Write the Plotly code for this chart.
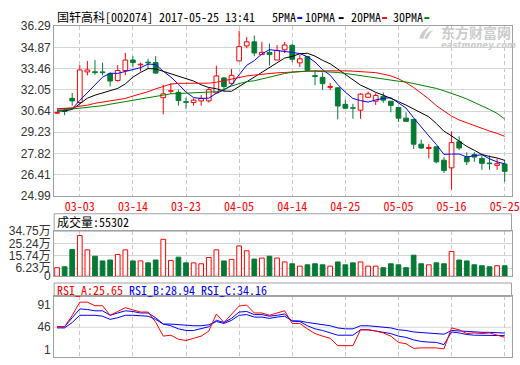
import plotly.graph_objects as go

# ---------------- data ----------------
dates = ["02-28", "03-01", "03-02", "03-03", "03-06", "03-07", "03-08", "03-09", "03-10", "03-13",
         "03-14", "03-15", "03-16", "03-17", "03-20", "03-21", "03-22", "03-23", "03-24", "03-27",
         "03-28", "03-29", "03-30", "03-31", "04-05", "04-06", "04-07", "04-10", "04-11", "04-12",
         "04-13", "04-14", "04-17", "04-18", "04-19", "04-20", "04-21", "04-24", "04-25", "04-26",
         "04-27", "04-28", "05-02", "05-03", "05-04", "05-05", "05-08", "05-09", "05-10", "05-11",
         "05-12", "05-15", "05-16", "05-17", "05-18", "05-19", "05-22", "05-23", "05-24", "05-25"]

opens = [30.50, 30.66, 31.49, 31.21, 33.25, 33.26, 33.25, 33.12, 32.68, 33.34,
         34.04, 33.72, 33.90, 33.87, 31.53, 31.96, 31.89, 31.27, 31.21, 31.32,
         31.32, 31.85, 32.85, 32.49, 33.98, 34.98, 35.25, 34.40, 34.55, 34.04,
         34.72, 35.02, 33.85, 34.27, 33.00, 32.89, 32.22, 32.19, 31.09, 30.86,
         30.70, 31.56, 31.30, 31.62, 31.30, 30.88, 30.17, 30.09, 28.44, 28.15,
         28.26, 27.37, 26.86, 28.60, 27.58, 27.75, 27.48, 27.18, 27.03, 27.12]
highs = [30.58, 30.79, 31.85, 33.70, 33.98, 34.04, 33.87, 33.23, 33.70, 34.51,
         34.30, 33.87, 34.12, 34.30, 32.39, 32.49, 32.07, 31.53, 31.49, 31.70,
         32.21, 33.66, 32.91, 33.44, 35.99, 35.57, 35.67, 35.25, 35.14, 35.04,
         35.25, 35.12, 34.38, 34.30, 33.32, 33.21, 32.51, 32.22, 31.40, 31.13,
         31.83, 31.94, 31.83, 31.88, 31.30, 30.88, 30.56, 30.09, 28.75, 28.44,
         28.26, 27.58, 29.28, 28.96, 27.90, 27.90, 27.69, 27.69, 27.48, 27.37]
lows = [30.45, 30.37, 31.00, 31.15, 33.02, 33.06, 33.02, 32.28, 32.60, 33.02,
        33.55, 33.28, 33.44, 33.12, 30.43, 31.79, 31.00, 30.79, 31.00, 31.00,
        31.21, 31.80, 31.96, 32.39, 33.98, 34.82, 34.30, 34.40, 33.66, 34.04,
        34.51, 33.90, 33.57, 33.30, 32.36, 32.04, 32.04, 30.09, 30.77, 30.13,
        30.13, 31.51, 31.05, 31.19, 30.56, 29.92, 29.92, 28.12, 28.12, 27.48,
        27.17, 26.52, 25.42, 28.05, 27.05, 27.26, 26.73, 26.73, 26.73, 25.93]
closes = [30.55, 30.62, 31.32, 33.38, 33.38, 33.20, 33.20, 32.64, 33.34, 34.04,
          33.87, 33.76, 33.85, 33.17, 31.79, 32.00, 31.34, 31.22, 31.37, 31.49,
          32.07, 32.98, 32.28, 33.02, 34.93, 35.25, 34.51, 34.55, 34.40, 34.68,
          35.04, 34.09, 34.12, 33.36, 32.94, 32.47, 32.28, 30.98, 30.83, 30.83,
          31.77, 31.79, 31.68, 31.37, 31.02, 30.17, 29.96, 28.44, 28.18, 28.22,
          27.26, 26.69, 28.54, 28.18, 27.26, 27.58, 27.16, 27.14, 27.14, 26.63]

ma5 = [30.78, 30.78, 30.80, 31.35, 31.85, 32.38, 32.90, 33.16, 33.15, 33.28,
       33.42, 33.53, 33.77, 33.74, 33.29, 32.91, 32.43, 31.90, 31.54, 31.48,
       31.50, 31.83, 32.04, 32.37, 33.06, 33.69, 34.00, 34.45, 34.73, 34.68,
       34.64, 34.55, 34.47, 34.26, 33.91, 33.40, 33.03, 32.41, 31.90, 31.48,
       31.34, 31.24, 31.38, 31.49, 31.53, 31.21, 30.84, 30.19, 29.55, 28.99,
       28.41, 27.76, 27.78, 27.78, 27.59, 27.65, 27.74, 27.46, 27.26, 27.13]
ma10 = [30.64, 30.65, 30.75, 31.15, 31.50, 31.70, 31.85, 31.98, 32.15, 32.45,
        32.90, 33.21, 33.47, 33.45, 33.29, 33.17, 32.98, 32.84, 32.64, 32.39,
        32.21, 32.13, 31.97, 31.96, 32.27, 32.60, 32.91, 33.25, 33.55, 33.87,
        34.17, 34.28, 34.46, 34.49, 34.30, 34.02, 33.79, 33.44, 33.08, 32.70,
        32.37, 32.14, 31.89, 31.70, 31.50, 31.27, 31.04, 30.79, 30.52, 30.26,
        29.81, 29.30, 28.99, 28.67, 28.29, 28.03, 27.75, 27.62, 27.52, 27.36]
ma20 = [30.79, 30.82, 30.86, 30.97, 31.03, 31.16, 31.23, 31.30, 31.39, 31.48,
        31.64, 31.77, 31.93, 32.12, 32.28, 32.44, 32.49, 32.49, 32.49, 32.49,
        32.50, 32.56, 32.66, 32.79, 32.91, 32.98, 33.04, 33.10, 33.15, 33.19,
        33.21, 33.25, 33.28, 33.30, 33.32, 33.33, 33.33, 33.33, 33.32, 33.30,
        33.26, 33.23, 33.20, 33.10, 32.98, 32.79, 32.53, 32.21, 31.83, 31.45,
        31.00, 30.62, 30.30, 30.05, 29.86, 29.67, 29.47, 29.31, 29.16, 28.96]
ma30 = [30.67, 30.72, 30.78, 30.81, 30.88, 30.94, 31.00, 31.10, 31.19, 31.26,
        31.35, 31.45, 31.54, 31.64, 31.70, 31.79, 31.81, 31.83, 31.83, 31.85,
        31.86, 31.93, 32.09, 32.31, 32.47, 32.60, 32.66, 32.79, 32.89, 33.01,
        33.14, 33.23, 33.28, 33.30, 33.30, 33.28, 33.25, 33.21, 33.15, 33.07,
        33.01, 32.95, 32.85, 32.75, 32.69, 32.63, 32.58, 32.47, 32.37, 32.28,
        32.15, 31.99, 31.83, 31.64, 31.45, 31.23, 31.00, 30.75, 30.49, 30.11]

volume_wan = [6.6, 7.3, 20.6, 31.3, 20.3, 15.4, 11.8, 12.5, 16.7, 20.3,
              11.8, 11.8, 10.3, 12.5, 28.4, 12.2, 14.7, 10.3, 10.3, 9.6,
              14.4, 20.3, 11.8, 13.0, 23.3, 19.6, 13.2, 14.0, 15.4, 14.0,
              11.0, 9.6, 7.8, 8.8, 9.6, 8.8, 7.8, 11.0, 8.8, 10.3,
              11.0, 7.8, 7.8, 6.6, 9.6, 8.8, 6.6, 16.2, 9.6, 8.8,
              10.3, 9.6, 19.1, 12.5, 11.8, 8.8, 8.1, 7.3, 8.1, 8.1]

rsi_a = [47.2, 47.0, 70.0, 97.0, 97.0, 89.7, 89.7, 70.3, 78.0, 85.8,
         81.3, 76.9, 76.9, 56.2, 27.9, 29.8, 21.5, 19.0, 23.4, 27.9,
         38.0, 73.0, 55.7, 71.7, 89.1, 91.0, 75.0, 75.0, 70.3, 75.0,
         79.4, 53.7, 53.7, 42.7, 33.1, 27.9, 23.4, 8.5, 8.5, 8.5,
         40.8, 40.8, 38.3, 34.4, 27.9, 15.1, 12.4, 3.0, 4.0, 4.0,
         4.0, 2.0, 44.6, 40.8, 33.1, 34.4, 33.1, 34.4, 29.8, 25.65]
rsi_b = [47.0, 47.0, 65.3, 83.3, 82.0, 79.4, 79.4, 70.3, 75.0, 79.4,
         78.0, 75.0, 75.0, 65.3, 52.4, 49.0, 42.7, 39.4, 39.4, 42.7,
         47.0, 60.1, 55.7, 64.0, 76.9, 78.0, 71.7, 71.7, 68.4, 70.3,
         72.9, 58.7, 57.6, 49.0, 42.7, 39.4, 34.4, 29.8, 29.8, 29.8,
         40.8, 40.8, 38.3, 36.3, 33.1, 27.9, 25.3, 20.2, 17.0, 15.7,
         15.1, 10.6, 36.3, 34.4, 31.2, 29.8, 29.8, 29.8, 28.6, 28.94]
rsi_c = [44.6, 44.6, 55.7, 70.3, 70.3, 70.3, 68.4, 62.0, 65.3, 70.3,
         70.3, 69.5, 68.4, 62.0, 52.4, 52.4, 51.0, 49.0, 49.0, 49.0,
         51.0, 57.6, 53.7, 60.0, 70.3, 71.7, 66.6, 66.6, 64.0, 66.6,
         68.4, 58.7, 58.7, 55.7, 53.7, 52.4, 49.0, 44.6, 42.7, 42.7,
         49.0, 49.0, 47.8, 45.9, 44.6, 40.8, 39.4, 36.3, 35.0, 34.4,
         33.1, 31.8, 39.4, 38.3, 36.3, 36.3, 35.6, 35.6, 34.4, 34.16]

price_ticks = [24.99, 26.41, 27.82, 29.23, 30.64, 32.05, 33.46, 34.87, 36.29]
volume_ticks = [0, 6.23, 15.74, 25.24, 34.75]
volume_tick_text = ["0", "6.23万", "15.74万", "25.24万", "34.75万"]
rsi_ticks = [1, 46, 91]
date_ticks = ["03-03", "03-14", "03-23", "04-05", "04-14", "04-25", "05-05", "05-16", "05-25"]

title_text = "国轩高科[002074] 2017-05-25 13:41"
volume_label = "成交量:55302"
rsi_labels = ["RSI_A:25.65", "RSI_B:28.94", "RSI_C:34.16"]
ma_names = ["5PMA", "10PMA", "20PMA", "30PMA"]

# ---------------- style ----------------
W, H = 520, 365
RED = "#ff0000"
GREEN = "#067a35"
BLUE = "#0000ff"
BORDER = "#a0a0a0"
GRID = "#d4d4d4"
WMARK = "#cccccc"
MONO = "Noto Sans Mono CJK SC, Noto Sans CJK SC, DejaVu Sans Mono, monospace"
SANS = "Liberation Sans, Arial, Noto Sans CJK SC, sans-serif"


def px_x(p):
    return p / W


def px_y(p):
    return 1 - p / H


up = [c >= o for o, c in zip(opens, closes)]

fig = go.Figure()

# wicks
for flag, col in ((True, RED), (False, GREEN)):
    xs, ys = [], []
    for d, o, h, l, c, u in zip(dates, opens, highs, lows, closes, up):
        if u != flag:
            continue
        xs += [d, d, None, d, d, None]
        ys += [h, max(o, c), None, min(o, c), l, None]
    fig.add_trace(go.Scatter(x=xs, y=ys, mode="lines", line=dict(color=col, width=1),
                             xaxis="x", yaxis="y", hoverinfo="skip"))

# candle bodies
for flag, fill, col in ((True, "white", RED), (False, GREEN, GREEN)):
    xs = [d for d, u in zip(dates, up) if u == flag]
    base = [min(o, c) for o, c, u in zip(opens, closes, up) if u == flag]
    hgt = [max(abs(c - o), 0.02) for o, c, u in zip(opens, closes, up) if u == flag]
    fig.add_trace(go.Bar(x=xs, y=hgt, base=base, width=0.62,
                         marker=dict(color=fill, line=dict(color=col, width=1)),
                         xaxis="x", yaxis="y", hoverinfo="skip"))

# moving averages
for vals, col in ((ma5, BLUE), (ma10, "#000000"), (ma20, RED), (ma30, "#008000")):
    fig.add_trace(go.Scatter(x=dates, y=vals, mode="lines", line=dict(color=col, width=1),
                             xaxis="x", yaxis="y", hoverinfo="skip"))

# volume
for flag, fill, col in ((True, "white", RED), (False, GREEN, GREEN)):
    xs = [d for d, u in zip(dates, up) if u == flag]
    v = [vv for vv, u in zip(volume_wan, up) if u == flag]
    fig.add_trace(go.Bar(x=xs, y=v, width=0.62,
                         marker=dict(color=fill, line=dict(color=col, width=1)),
                         xaxis="x2", yaxis="y2", hoverinfo="skip"))

# RSI
for vals, col in ((rsi_c, BLUE), (rsi_b, BLUE), (rsi_a, RED)):
    fig.add_trace(go.Scatter(x=dates, y=vals, mode="lines", line=dict(color=col, width=1),
                             xaxis="x3", yaxis="y3", hoverinfo="skip"))

xdom = [px_x(55), px_x(519.5)]
xrange = [-0.38, 59.9]


def xaxis_common(anchor, show_labels):
    return dict(domain=xdom, anchor=anchor, type="category",
                categoryorder="array", categoryarray=dates, range=xrange,
                tickmode="array", tickvals=date_ticks, ticktext=date_ticks,
                showticklabels=show_labels, ticks="", tickangle=0,
                tickfont=dict(family=MONO, size=12, color=RED),
                showgrid=True, gridcolor="#c8c8c8", griddash="4px,3px", gridwidth=1,
                showline=True, mirror=True, linecolor=BORDER, linewidth=1,
                zeroline=False, fixedrange=True)


def yaxis_common(anchor, dom, rng, tv, tt, grid=True):
    return dict(domain=dom, anchor=anchor, range=rng, tickmode="array",
                tickvals=tv, ticktext=tt, ticks="",
                tickfont=dict(family=SANS, size=12, color="#333333"),
                showgrid=grid, gridcolor=GRID, gridwidth=1,
                showline=True, mirror=True, linecolor=BORDER, linewidth=1,
                zeroline=False, fixedrange=True)


price_text = ["%.2f" % t for t in price_ticks]
rsi_text = [str(t) for t in rsi_ticks]

# RSI vertical range so that 91 and 1 sit at their pixel rows
rsi_px_top, rsi_px_bot = 301, 364
per_px = 90.0 / 46.0
rsi_range = [1 - (rsi_px_bot - 356) * per_px, 91 + (310 - rsi_px_top) * per_px]

fig.update_layout(
    width=W, height=H, margin=dict(l=0, r=0, t=0, b=0),
    paper_bgcolor="white", plot_bgcolor="white",
    showlegend=False, barmode="overlay",
    xaxis=xaxis_common("y", True),
    xaxis2=xaxis_common("y2", False),
    xaxis3=xaxis_common("y3", False),
    yaxis=yaxis_common("x", [px_y(196.5), px_y(20)], [price_ticks[0], price_ticks[-1]],
                       price_ticks, price_text),
    yaxis2=yaxis_common("x2", [px_y(280), px_y(233)], [0, volume_ticks[-1]],
                        volume_ticks, volume_tick_text),
    yaxis3=yaxis_common("x3", [px_y(rsi_px_bot), px_y(rsi_px_top)], rsi_range,
                        rsi_ticks, rsi_text, grid=False),
)

shapes = []
# header boxes
shapes.append(dict(type="rect", xref="paper", yref="paper", x0=px_x(55), x1=px_x(519.5),
                   y0=px_y(233), y1=px_y(215), line=dict(color=BORDER, width=1)))
shapes.append(dict(type="rect", xref="paper", yref="paper", x0=px_x(55), x1=px_x(519.5),
                   y0=px_y(301), y1=px_y(287), line=dict(color=BORDER, width=1)))
# RSI mid grid line
shapes.append(dict(type="line", xref="x3 domain", yref="y3", x0=0, x1=1, y0=46, y1=46,
                   line=dict(color=GRID, width=1), layer="below"))
# legend colour dashes
for x0, col in ((302, BLUE), (344, "#000000"), (388, RED), (431, "#008000")):
    shapes.append(dict(type="rect", xref="paper", yref="paper", x0=px_x(x0), x1=px_x(x0 + 5),
                       y0=px_y(12.5), y1=px_y(10.5), line=dict(width=0), fillcolor=col))

# watermark swoosh logo (decoration)
def pt(x, y):
    return "%.5f,%.5f" % (px_x(x), px_y(y))


swoosh = ("M " + pt(426, 33) + " Q " + pt(427, 24) + " " + pt(437, 20) +
          " Q " + pt(432, 25) + " " + pt(430, 33) + " Z")
shapes.append(dict(type="path", xref="paper", yref="paper", path=swoosh,
                   fillcolor=WMARK, line=dict(width=0), layer="below"))
swoosh2 = ("M " + pt(431, 33) + " Q " + pt(433, 26) + " " + pt(440, 24) +
           " Q " + pt(436, 28) + " " + pt(434, 33) + " Z")
shapes.append(dict(type="path", xref="paper", yref="paper", path=swoosh2,
                   fillcolor=WMARK, line=dict(width=0), layer="below"))
fig.update_layout(shapes=shapes)

ann = []
ann.append(dict(text=title_text, x=px_x(56), y=px_y(10), xref="paper", yref="paper",
                xanchor="left", yanchor="middle", showarrow=False,
                font=dict(family=MONO, size=12, color="#000000")))
for name, x0 in zip(ma_names, (275, 309, 355, 398)):
    ann.append(dict(text=name, x=px_x(x0 - 1), y=px_y(10), xref="paper", yref="paper",
                    xanchor="left", yanchor="middle", showarrow=False,
                    font=dict(family=MONO, size=12, color="#000000")))
ann.append(dict(text=volume_label, x=px_x(56), y=px_y(223.5), xref="paper", yref="paper",
                xanchor="left", yanchor="middle", showarrow=False,
                font=dict(family=MONO, size=12, color="#000000")))
rsi_html = ("<span style='color:%s'>%s</span> <span style='color:%s'>%s</span> "
            "<span style='color:%s'>%s</span>") % (RED, rsi_labels[0], BLUE, rsi_labels[1],
                                                     BLUE, rsi_labels[2])
ann.append(dict(text=rsi_html, x=px_x(56), y=px_y(294), xref="paper", yref="paper",
                xanchor="left", yanchor="middle", showarrow=False,
                font=dict(family=MONO, size=12, color=RED)))
# watermark text
ann.append(dict(text="<b>东方财富网</b>", x=px_x(446), y=px_y(26.5), xref="paper", yref="paper",
                xanchor="left", yanchor="middle", showarrow=False,
                font=dict(family="Noto Sans CJK SC", size=14, color=WMARK)))
ann.append(dict(text="<b><i>eastmoney.com</i></b>", x=px_x(446), y=px_y(39), xref="paper",
                yref="paper", xanchor="left", yanchor="middle", showarrow=False,
                font=dict(family="DejaVu Sans", size=8.5, color=WMARK)))
fig.update_layout(annotations=ann)

fig.write_html("out.html",
               config={"displayModeBar": False, "staticPlot": True},
               post_script="document.body.style.margin='0px';"
                           "document.body.style.overflow='hidden';")
